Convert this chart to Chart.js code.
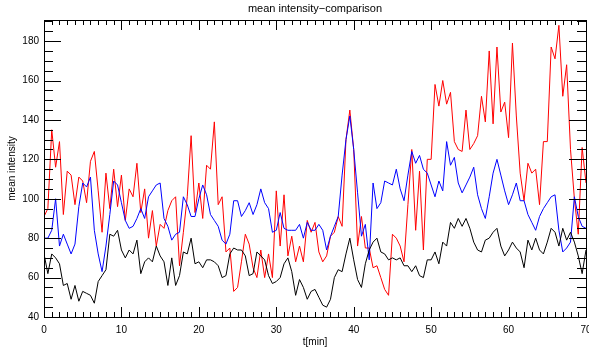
<!DOCTYPE html>
<html>
<head>
<meta charset="utf-8">
<script src="https://cdn.jsdelivr.net/npm/chart.js@4.4.1/dist/chart.umd.min.js"></script>
<style>
  html, body { margin: 0; padding: 0; background: #fff; }
  #wrap { width: 589px; height: 347px; }
</style>
</head>
<body>
<div id="wrap"><canvas id="myChart" width="589" height="347"></canvas></div>
<script>
// intensity samples, every 0.5 min from 0 to 70
const redSeries = [
  91, 95, 135, 116, 129, 92, 114, 112, 97, 111, 109, 98, 119, 124, 104, 83, 113, 95, 115, 96,
  112, 89, 105, 101, 118, 93, 105, 80, 94, 76, 87, 85, 94, 99, 101, 66, 83, 101, 132, 93,
  108, 90, 117, 115, 139, 97, 101, 73, 75, 53, 55, 68, 82, 77, 65, 60, 74, 60, 72, 60,
  104, 76, 102, 71, 81, 68, 76, 68, 89, 83, 88, 73, 68, 71, 81, 83, 91, 86, 130, 145,
  125, 76, 91, 75, 75, 65, 66, 60, 54, 51, 82, 80, 76, 68, 97, 125, 84, 114, 74, 120,
  120, 158, 147, 160, 148, 154, 129, 125, 124, 145, 125, 128, 132, 152, 139, 175, 138, 177, 144, 149,
  131, 179, 142, 113, 99, 118, 113, 115, 97, 129, 129, 177, 171, 188, 152, 168, 125, 100, 82, 126,
  108
];
const blueSeries = [
  80, 80, 84, 100, 76, 82, 77, 72, 77, 96, 108, 106, 111, 84, 72, 63, 76, 92, 109, 107,
  98, 89, 85, 86, 90, 95, 90, 101, 104, 107, 108, 90, 86, 79, 82, 83, 101, 97, 91, 91,
  100, 107, 102, 92, 89, 86, 79, 77, 82, 99, 99, 91, 94, 98, 92, 97, 105, 98, 95, 83,
  84, 93, 85, 84, 84, 84, 87, 80, 88, 84, 84, 87, 84, 74, 81, 86, 91, 112, 130, 142,
  125, 103, 81, 87, 69, 108, 95, 98, 109, 108, 107, 115, 105, 99, 112, 124, 118, 122, 115, 113,
  107, 101, 109, 104, 129, 117, 121, 108, 103, 107, 111, 116, 102, 95, 90, 101, 113, 120, 112, 104,
  97, 102, 108, 99, 99, 92, 88, 84, 91, 95, 98, 101, 102, 84, 73, 75, 78, 101, 91, 86,
  85
];
const blackSeries = [
  72, 62, 72, 70, 67, 56, 57, 49, 56, 48, 53, 52, 51, 47, 58, 61, 64, 82, 81, 84,
  74, 70, 74, 72, 79, 62, 68, 70, 68, 76, 71, 68, 56, 70, 56, 61, 73, 72, 80, 67,
  68, 65, 69, 69, 68, 66, 60, 61, 72, 75, 74, 74, 71, 61, 62, 73, 71, 69, 61, 57,
  58, 60, 67, 70, 63, 51, 59, 55, 49, 53, 54, 50, 46, 45, 49, 60, 64, 63, 72, 80,
  69, 59, 55, 67, 74, 78, 80, 73, 72, 69, 70, 69, 70, 66, 66, 63, 66, 61, 60, 69,
  69, 73, 67, 78, 76, 88, 85, 90, 86, 90, 85, 78, 74, 73, 79, 80, 83, 85, 76, 71,
  74, 78, 75, 73, 65, 79, 74, 80, 74, 72, 78, 85, 83, 76, 85, 79, 83, 78, 71, 62,
  74
];
const tStep = 0.5;
const times = redSeries.map((_, i) => i * tStep);

const xTicks = [0, 10, 20, 30, 40, 50, 60, 70];
const yTicks = [40, 60, 80, 100, 120, 140, 160, 180];
const xMinor = 1;
const yMinor = 5;

const font = '"Liberation Sans", Arial, sans-serif';

// box axes with inward ticks on all four sides, IDL style
const frame = {
  id: 'frame',
  afterDraw(chart) {
    const { ctx, chartArea: a, scales: { x, y } } = chart;
    ctx.save();
    ctx.strokeStyle = '#000';
    ctx.lineWidth = 1;
    ctx.strokeRect(Math.round(a.left) + 0.5, Math.round(a.top) + 0.5,
      Math.round(a.right - a.left), Math.round(a.bottom - a.top));

    ctx.beginPath();
    for (let v = x.min; v <= x.max + 1e-9; v += xMinor) {
      const px = Math.round(x.getPixelForValue(v)) + 0.5;
      const len = xTicks.includes(v) ? 10 : 5;
      ctx.moveTo(px, a.bottom); ctx.lineTo(px, a.bottom - len);
      ctx.moveTo(px, a.top); ctx.lineTo(px, a.top + len);
    }
    for (let v = 40; v <= y.max + 1e-9; v += yMinor) {
      const py = Math.round(y.getPixelForValue(v)) + 0.5;
      const len = yTicks.includes(v) ? 17 : 9;
      ctx.moveTo(a.left, py); ctx.lineTo(a.left + len, py);
      ctx.moveTo(a.right, py); ctx.lineTo(a.right - len, py);
    }
    ctx.stroke();

    ctx.fillStyle = '#000';
    ctx.font = '10px ' + font;
    ctx.textAlign = 'center';
    ctx.textBaseline = 'middle';
    xTicks.forEach(v => ctx.fillText(String(v), x.getPixelForValue(v), a.bottom + 13));
    ctx.textAlign = 'right';
    yTicks.forEach(v => ctx.fillText(String(v), a.left - 5, y.getPixelForValue(v)));

    const cx = (a.left + a.right) / 2;
    ctx.textAlign = 'center';
    ctx.fillText('t[min]', cx, a.bottom + 25);
    ctx.font = '11px ' + font;
    ctx.fillText('mean intensity\u2212comparison', cx, 9);

    ctx.font = '10px ' + font;
    ctx.translate(12, (a.top + a.bottom) / 2);
    ctx.rotate(-Math.PI / 2);
    ctx.fillText('mean intensity', 0, 0);
    ctx.restore();
  }
};

const lineSet = (data, color) => ({
  data,
  borderColor: color,
  borderWidth: 1,
  pointRadius: 0,
  tension: 0,
  fill: false
});

new Chart(document.getElementById('myChart'), {
  type: 'line',
  data: {
    labels: times,
    datasets: [
      lineSet(blackSeries, '#000000'),
      lineSet(blueSeries, '#0000ff'),
      lineSet(redSeries, '#ff0000')
    ]
  },
  options: {
    responsive: false,
    animation: false,
    layout: { padding: { left: 44, right: 3, top: 20, bottom: 30 } },
    plugins: { legend: { display: false }, tooltip: { enabled: false } },
    scales: {
      x: { type: 'linear', min: 0, max: 70, display: false },
      y: { type: 'linear', min: 40, max: 190.7, display: false }
    }
  },
  plugins: [frame]
});
</script>
</body>
</html>
